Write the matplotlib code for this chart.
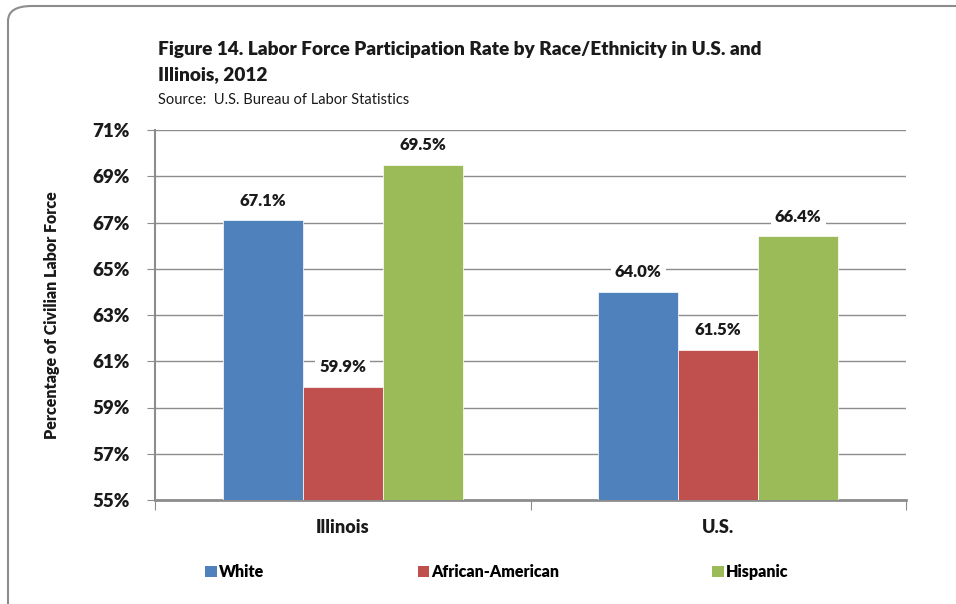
import numpy as np
import matplotlib
matplotlib.use("Agg")
import matplotlib.pyplot as plt
from matplotlib.patches import FancyBboxPatch, Patch

plt.rcParams['font.family'] = ['Lato', 'DejaVu Sans']

regions = ['Illinois', 'U.S.']
series = ['White', 'African-American', 'Hispanic']
white = [67.1, 64.0]
african_american = [59.9, 61.5]
hispanic = [69.5, 66.4]
colors = ['#4f81bd', '#c0504d', '#9bbb59']
yticks = [55, 57, 59, 61, 63, 65, 67, 69, 71]

fig = plt.figure(figsize=(9.56, 6.04), dpi=100)
ax = fig.add_axes([155/956, 104/604, 751/956, 370/604])

# rounded frame around the whole chart
frame = FancyBboxPatch((8/956, -20/604), 980/956, 618/604,
                       boxstyle="round,pad=0,rounding_size=0.025",
                       transform=fig.transFigure, fill=False,
                       edgecolor='#8c8c8c', linewidth=1.5, clip_on=False)
fig.patches.append(frame)

x = np.arange(len(regions))
w = 0.213
vals = [white, african_american, hispanic]
for k, (name, v, c) in enumerate(zip(series, vals, colors)):
    pos = x + (k - 1) * w
    ax.bar(pos, np.array(v) - 55, bottom=55, width=w, color=c,
           edgecolor='white', linewidth=0.5, zorder=3, label=name)
    for px, py in zip(pos, v):
        ax.text(px, py + 0.85, f"{py:.1f}%", ha='center', va='center',
                fontsize=12, fontweight='heavy', color='#1a1a1a', zorder=5,
                bbox=dict(facecolor='white', edgecolor='none', pad=3))

ax.set_xlim(-0.5, 1.5)
ax.set_ylim(55, 71)
ax.set_yticks(yticks)
ax.set_yticklabels([f"{t}%" for t in yticks], fontsize=13.5, fontweight='heavy',
                   color='#1a1a1a')
ax.set_xticks([-0.5, 0.5, 1.5])
ax.set_xticklabels([])
ax.set_xticks(x, minor=True)
ax.set_xticklabels(regions, minor=True, fontsize=13, fontweight='heavy', color='#1a1a1a')
ax.tick_params(axis='x', which='minor', length=0, pad=14)
ax.tick_params(axis='x', which='major', length=7, direction='out', color='#8c8c8c')
ax.tick_params(axis='y', length=6, direction='out', color='#8c8c8c', pad=12)

ax.grid(axis='y', color='#8c8c8c', linewidth=1.0, zorder=0)
ax.set_axisbelow(True)
for s in ['top', 'right']:
    ax.spines[s].set_visible(False)
for s in ['left', 'bottom']:
    ax.spines[s].set_color('#8c8c8c')
ax.spines['left'].set_linewidth(1.5)
ax.spines['bottom'].set_linewidth(2)

ax.set_ylabel('Percentage of Civilian Labor Force', fontsize=11.5,
              fontweight='heavy', color='#1a1a1a')
ax.yaxis.set_label_coords(-0.126, 0.5)

fig.text(158/956, 1 - 50/604, 'Figure 14. Labor Force Participation Rate by Race/Ethnicity in U.S. and',
         fontsize=13.7, fontweight='heavy', va='center', color='#1a1a1a')
fig.text(158/956, 1 - 75/604, 'Illinois, 2012',
         fontsize=13.7, fontweight='heavy', va='center', color='#1a1a1a')
fig.text(158/956, 1 - 100/604, 'Source:  U.S. Bureau of Labor Statistics',
         fontsize=10.5, va='center', color='#1a1a1a')

handles = [Patch(facecolor=c) for c in colors]
fig.legend(handles, series, loc='center left', bbox_to_anchor=(191/956, 1 - 572/604),
           ncol=3, frameon=False, handlelength=0.7, handleheight=0.7,
           handletextpad=0.15, columnspacing=9.6,
           prop=dict(weight='heavy', size=11.5))

fig.savefig('out.png', dpi=100)
